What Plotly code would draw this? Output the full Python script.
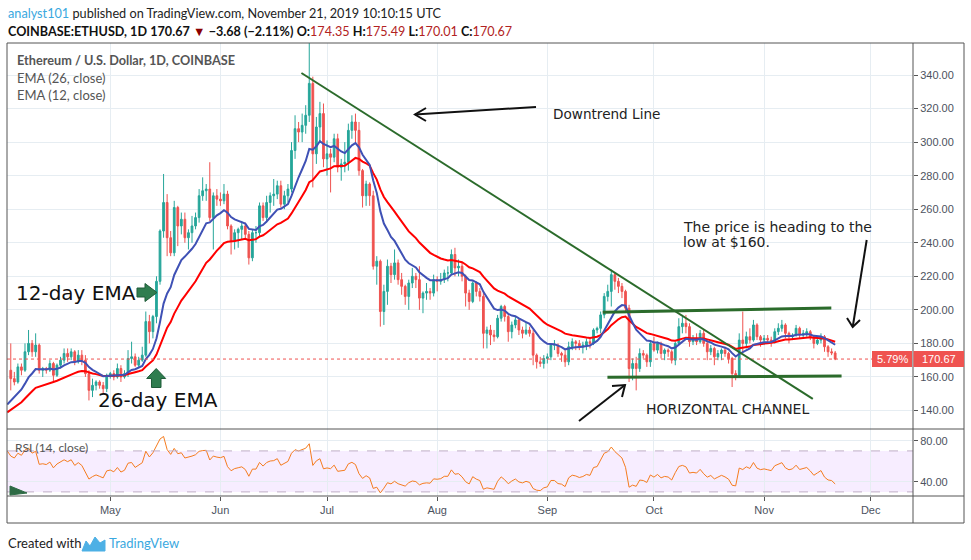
import plotly.graph_objects as go
import pandas as pd

W, H = 971, 560
def px(x): return x / W
def py(y): return 1 - y / H

# ---------------- DATA ----------------
# daily candles (open, high, low, close), 2019-04-03 .. 2019-11-21
apr = [(164,180,152,159),(159,163,155,157),(157,168,156,166),(166,168,161,164),(164,180,163,175),
       (175,188,173,180),(180,182,172,175),(175,186,172,179),(179,180,162,164),(164,166,160,165),
       (165,166,162,164),(164,170,163,168),(168,169,157,161),(161,168,160,167),(167,172,165,170),
       (170,177,168,174),(174,177,169,172),(172,177,170,175),(175,176,167,169),(169,176,168,173),
       (173,176,167,170),(170,173,160,162),(162,164,146,152),(152,159,148,155),(155,158,152,157),
       (157,158,153,155),(155,157,150,153),(153,162,151,161)]
may = [(161,163,159,162),(162,164,158,160),(160,168,159,165),(165,167,157,160),(160,164,159,162),
       (162,176,160,171),(171,181,168,172),(172,174,166,167),(167,172,166,170),(170,178,169,173),
       (173,199,172,193),(193,197,180,187),(187,197,183,196),(196,220,192,217),(217,248,215,247),
       (247,281,243,264),(264,269,232,243),(243,247,232,234),(234,265,232,261),(261,262,238,250),
       (250,258,245,254),(254,258,240,243),(243,248,236,246),(246,256,240,250),(250,258,248,255),
       (255,272,252,268),(268,279,265,271),(271,275,265,272),(272,288,253,255),(255,270,236,268),
       (268,272,262,266)]
jun = [(266,270,262,265),(265,275,263,269),(269,271,248,250),(250,251,233,241),(241,248,236,246),
       (246,249,237,248),(248,253,242,250),(250,252,242,245),(245,247,227,231),(231,248,229,246),
       (246,250,240,246),(246,264,244,262),(262,264,253,255),(255,268,252,264),(264,270,258,268),
       (268,278,262,269),(269,277,266,274),(274,277,261,263),(263,271,260,268),(268,275,264,272),
       (272,300,270,295),(295,316,290,308),(308,312,300,306),(306,317,300,310),(310,322,305,316),
       (316,362,312,335),(335,339,273,293),(293,315,287,309),(309,324,300,317),(317,323,285,290)]
jul = [(290,301,280,293),(293,296,270,291),(291,305,288,302),(302,305,282,285),(285,290,277,287),
       (287,300,282,288),(288,311,283,307),(307,316,302,312),(312,317,300,307),(307,312,280,283),
       (283,284,261,268),(268,277,262,275),(275,276,262,268),(268,271,224,226),(226,232,215,229),
       (229,230,190,199),(199,215,191,211),(211,230,203,226),(226,228,216,221),(221,236,218,228),
       (228,230,215,218),(218,222,209,214),(214,215,203,208),(208,218,200,216),(216,225,213,220),
       (220,222,213,218),(218,226,200,207),(207,211,198,210),(210,216,206,211),(211,213,206,210),
       (210,221,208,218)]
aug = [(218,220,211,217),(217,222,215,218),(218,224,216,222),(222,226,217,222),(222,236,221,233),
       (233,237,220,225),(225,230,220,226),(226,228,217,220),(220,221,202,210),(210,212,200,205),
       (205,217,204,216),(216,217,208,211),(211,213,205,208),(208,210,177,186),(186,190,177,188),
       (188,191,179,185),(185,188,181,184),(184,197,183,195),(195,203,193,202),(202,203,193,196),
       (196,197,181,187),(187,193,183,191),(191,196,189,194),(194,195,185,188),(188,190,183,186),
       (186,193,185,188),(188,190,184,186),(186,188,167,173),(173,174,165,169),(169,172,166,168),
       (168,173,165,171)]
sep = [(171,174,168,172),(172,180,170,179),(179,182,176,179),(179,180,172,174),(174,175,169,173),
       (173,176,166,169),(169,181,167,178),(178,183,176,181),(181,182,176,180),(180,182,176,178),
       (178,181,174,179),(179,183,176,181),(181,183,177,180),(180,189,179,188),(188,190,186,189),
       (189,199,186,197),(197,210,195,208),(208,215,205,211),(211,224,202,221),(221,222,212,217),
       (217,219,210,214),(214,216,207,211),(211,212,199,201),(201,203,157,165),(165,171,158,168),
       (168,172,152,165),(165,177,163,174),(174,176,171,173),(173,174,166,169),(169,182,166,180)]
oct_ = [(180,184,175,176),(176,181,174,180),(180,181,171,174),(174,177,170,176),(176,177,172,175),
        (175,176,168,170),(170,181,167,180),(180,195,179,190),(190,197,186,192),(192,197,186,190),
        (190,192,178,181),(181,185,179,182),(182,186,179,181),(181,188,180,186),(186,188,178,180),
        (180,182,170,175),(175,179,173,177),(177,178,167,172),(172,176,170,174),(174,177,170,176),
        (176,178,172,174),(174,175,168,171),(171,172,154,162),(162,164,158,161),(161,186,160,182),
        (182,199,174,180),(180,187,177,184),(184,189,180,182),(182,194,181,191),(191,192,182,184),
        (184,185,178,182)]
nov = [(182,185,179,183),(183,185,180,182),(182,184,178,181),(181,189,180,187),(187,192,185,189),
       (189,194,187,191),(191,192,183,186),(186,187,180,184),(184,186,182,185),(185,191,184,189),
       (189,190,183,185),(185,188,183,186),(186,189,184,187),(187,188,182,184),(184,185,177,180),
       (180,183,179,182),(182,186,180,184),(184,185,175,178),(178,179,172,175),(175,177,173,174.35),
       (174.35,175.49,170.01,170.67)]

first_day = "2019-04-03"
last_day = "2019-11-21"
seed_day = "2019-04-02"          # indicator values at the left edge
ema12_seed, ema26_seed = 143.6, 138.9
rsi_gain_seed, rsi_loss_seed, seed_close = 3.5, 1.5, 164.0

price_ticks = [140, 160, 180, 200, 220, 240, 260, 280, 300, 320, 340]
rsi_ticks = [40, 80]
last_price = 170.67
pct_label = "5.79%"

# hand-drawn lines (date, price)
downtrend = [("2019-06-23 19:00", 341.2), ("2019-11-14 17:00", 146.9)]
chan_top = [("2019-09-16 14:00", 198.5), ("2019-11-19 22:00", 201.1)]
chan_bot = [("2019-09-17 22:00", 159.8), ("2019-11-22 19:00", 160.6)]

# ---------------- derived ----------------
rows = apr + may + jun + jul + aug + sep + oct_ + nov
dates = pd.date_range(first_day, last_day, freq="D")
o = [r[0] for r in rows]; h = [r[1] for r in rows]
l = [r[2] for r in rows]; c = [r[3] for r in rows]

ind_dates = [pd.Timestamp(seed_day)] + list(dates)
def ema(seed, n):
    k = 2 / (n + 1); out = [seed]
    for v in c:
        out.append(out[-1] + k * (v - out[-1]))
    return out
ema12 = ema(ema12_seed, 12)
ema26 = ema(ema26_seed, 26)
ag, al, prev = rsi_gain_seed, rsi_loss_seed, seed_close
rsi = [100 - 100 / (1 + ag / al)]
for v in c:
    d = v - prev; prev = v
    ag = (ag * 13 + max(d, 0)) / 14
    al = (al * 13 + max(-d, 0)) / 14
    rsi.append(100 - 100 / (1 + ag / al))

UP, DN = "#26a69a", "#ef5350"
GRID = "#e6edf2"
AXC = "#4c525e"
BORDER = "#555555"
AXFONT = "Liberation Sans"
UIFONT = "Lato"
DRAW = "DejaVu Sans"

fig = go.Figure()
fig.add_trace(go.Candlestick(
    x=dates, open=o, high=h, low=l, close=c, xaxis="x", yaxis="y",
    increasing=dict(line=dict(color=UP, width=1), fillcolor=UP),
    decreasing=dict(line=dict(color=DN, width=1), fillcolor=DN),
    whiskerwidth=0, showlegend=False, hoverinfo="skip"))
fig.add_trace(go.Scatter(x=ind_dates, y=ema26, mode="lines", xaxis="x", yaxis="y",
                         line=dict(color="#ff0000", width=2), showlegend=False, hoverinfo="skip"))
fig.add_trace(go.Scatter(x=ind_dates, y=ema12, mode="lines", xaxis="x", yaxis="y",
                         line=dict(color="#3f51b5", width=2), showlegend=False, hoverinfo="skip"))
fig.add_trace(go.Scatter(x=ind_dates, y=rsi, mode="lines", xaxis="x2", yaxis="y2",
                         line=dict(color="#f57c1f", width=1), showlegend=False, hoverinfo="skip"))

months = pd.date_range("2019-05-01", "2019-12-01", freq="MS")
xr = ["2019-04-01 22:30", "2019-12-12 21:40"]
dom_x = [px(7), px(913)]

fig.update_layout(
    width=W, height=H, margin=dict(l=0, r=0, t=0, b=0),
    paper_bgcolor="white", plot_bgcolor="white", showlegend=False,
    xaxis=dict(domain=dom_x, range=xr, type="date", anchor="y",
               rangeslider=dict(visible=False), showticklabels=False,
               tickvals=months, ticks="", showgrid=True, gridcolor=GRID,
               zeroline=False, showline=False),
    xaxis2=dict(domain=dom_x, range=xr, type="date", anchor="y2", matches="x",
                tickvals=months, tickformat="%b", ticks="outside", ticklen=4,
                tickcolor=BORDER, showgrid=True, gridcolor=GRID, zeroline=False,
                showline=False, tickfont=dict(family=AXFONT, size=11, color=AXC)),
    yaxis=dict(domain=[py(428.5), py(43)], range=[129.27, 359.08], side="right",
               anchor="x", tickvals=price_ticks, ticktext=[f"{v:.2f}" for v in price_ticks],
               ticks="outside", ticklen=4, tickcolor=BORDER, showgrid=True,
               gridcolor=GRID, zeroline=False, showline=False,
               tickfont=dict(family=AXFONT, size=11, color=AXC)),
    yaxis2=dict(domain=[py(496), py(429)], range=[26, 91.4], side="right",
                anchor="x2", tickvals=rsi_ticks, ticktext=[f"{v:.2f}" for v in rsi_ticks],
                ticks="outside", ticklen=4, tickcolor=BORDER, showgrid=True,
                gridcolor=GRID, zeroline=False, showline=False,
                tickfont=dict(family=AXFONT, size=11, color=AXC)),
)

shapes = []
# RSI band
shapes.append(dict(type="rect", xref="paper", yref="y2", x0=px(7), x1=px(913), y0=30, y1=70,
                   fillcolor="rgba(153,21,255,0.08)", line=dict(width=0), layer="below"))
for lv in (30, 70):
    shapes.append(dict(type="line", xref="paper", yref="y2", x0=px(7), x1=px(913), y0=lv, y1=lv,
                       line=dict(color="#bfaec6", width=1, dash="dash")))
# last price dotted line
shapes.append(dict(type="line", xref="paper", yref="y", x0=px(7), x1=px(913),
                   y0=last_price, y1=last_price, line=dict(color=DN, width=1, dash="dot")))
# frame
def pline(x0, y0, x1, y1, color=BORDER, w=1):
    shapes.append(dict(type="line", xref="paper", yref="paper", x0=px(x0), y0=py(y0),
                       x1=px(x1), y1=py(y1), line=dict(color=color, width=w)))
pline(7, 43, 964, 43); pline(7, 43, 7, 523); pline(964, 43, 964, 523); pline(7, 523, 964, 523)
pline(913, 43, 913, 523); pline(7, 429, 964, 429); pline(7, 496, 964, 496)
# drawn trend / channel lines
GREEN = "#2b6b2b"
for (a, b), w in ((downtrend, 2), (chan_top, 3), (chan_bot, 3)):
    shapes.append(dict(type="line", xref="x", yref="y", x0=a[0], y0=a[1], x1=b[0], y1=b[1],
                       line=dict(color=GREEN, width=w)))
# black hand-drawn arrows (pixel paths)
def ppath(pts, close=False):
    s = "M" + " L".join(f"{px(x):.5f},{py(y):.5f}" for x, y in pts)
    return s + (" Z" if close else "")
for seg in ([(536, 107), (415, 114.5)], [(426, 108), (415, 114.5), (426, 121)],
            [(579, 421), (625, 385)], [(612, 386), (625, 385), (622, 397)],
            [(866.7, 240), (852.7, 327)], [(847, 318), (852.7, 327), (860, 320)]):
    shapes.append(dict(type="path", xref="paper", yref="paper", path=ppath(seg),
                       line=dict(color="#111111", width=2)))
# green block arrows
ARROWG = "#2f7d4f"
shapes.append(dict(type="path", xref="paper", yref="paper", fillcolor=ARROWG,
                   line=dict(color="#1f5c39", width=1),
                   path=ppath([(137, 288), (145, 288), (145, 283.5), (157, 292.5), (145, 301.5),
                               (145, 297), (137, 297)], True)))
shapes.append(dict(type="path", xref="paper", yref="paper", fillcolor=ARROWG,
                   line=dict(color="#1f5c39", width=1),
                   path=ppath([(156.2, 368.5), (165.7, 378.5), (161, 378.5), (161, 387.5),
                               (151.5, 387.5), (151.5, 378.5), (146.7, 378.5)], True)))
# small marker in RSI pane
shapes.append(dict(type="path", xref="paper", yref="paper", fillcolor="#2e6b45",
                   line=dict(color="#2e6b45", width=1),
                   path=ppath([(10, 486), (27, 493), (10, 495)], True)))
# price label boxes
shapes.append(dict(type="rect", xref="paper", yref="paper", x0=px(872), x1=px(912),
                   y0=py(367), y1=py(351), fillcolor=DN, line=dict(width=0)))
shapes.append(dict(type="rect", xref="paper", yref="paper", x0=px(913.5), x1=px(964),
                   y0=py(367), y1=py(351), fillcolor=DN, line=dict(width=0)))
# footer logo
shapes.append(dict(type="path", xref="paper", yref="paper", fillcolor="#4db0e5",
                   line=dict(color="#4db0e5", width=1),
                   path=ppath([(82, 551), (86, 541), (90, 546), (95, 537), (100, 543),
                               (105, 540), (105, 551)], True)))
fig.update_layout(shapes=shapes)

ann = []
def text(x, y, s, size, color="#222", family=DRAW, anchor="left", bg=None):
    ann.append(dict(xref="paper", yref="paper", x=px(x), y=py(y), text=s, showarrow=False,
                    xanchor=anchor, yanchor="middle", bgcolor=bg,
                    font=dict(family=family, size=size, color=color)))
text(6, 13, '<span style="color:#3aa8e0">analyst101</span> published on TradingView.com, '
     'November 21, 2019 10:10:15 UTC', 12.7, "#222", UIFONT)
RED2 = "#b22222"
text(6, 31, f'<b>COINBASE:ETHUSD, 1D</b> <b>170.67</b> <span style="color:#8b0000">▼</span> '
     f'<b>−3.68 (−2.11%)</b> <b>O:</b><span style="color:{RED2}">174.35</span> '
     f'<b>H:</b><span style="color:{RED2}">175.49</span> <b>L:</b><span style="color:{RED2}">170.01</span> '
     f'<b>C:</b><span style="color:{RED2}">170.67</span>', 12.6, "#111", UIFONT)
text(15, 60, "<b>Ethereum / U.S. Dollar, 1D, COINBASE</b>", 12.7, "#555", UIFONT)
text(15, 78, "EMA (26, close)", 13, "#555", UIFONT)
text(15, 95, "EMA (12, close)", 13, "#555", UIFONT)
text(13, 447, "RSI (14, close)", 12, "#555", UIFONT)
text(551, 114, "Downtrend Line", 13.6, "#222")
text(681, 227, "The price is heading to the", 14, "#222")
text(681, 242, "low at $160.", 14, "#222")
text(644, 409, "HORIZONTAL CHANNEL", 14, "#222")
text(14, 293, "12-day EMA", 20, "#111")
text(96, 400, "26-day EMA", 20, "#111")
text(892, 359, pct_label, 11, "white", AXFONT, "center")
text(939, 359, f"{last_price:.2f}", 11, "white", AXFONT, "center")
text(6, 543, "Created with", 13, "#222", UIFONT)
text(107, 543, "TradingView", 13, "#3aa8e0", UIFONT)
fig.update_layout(annotations=ann)

fig.write_html("out.html", config={"displayModeBar": False},
               post_script="document.body.style.margin='0';")
